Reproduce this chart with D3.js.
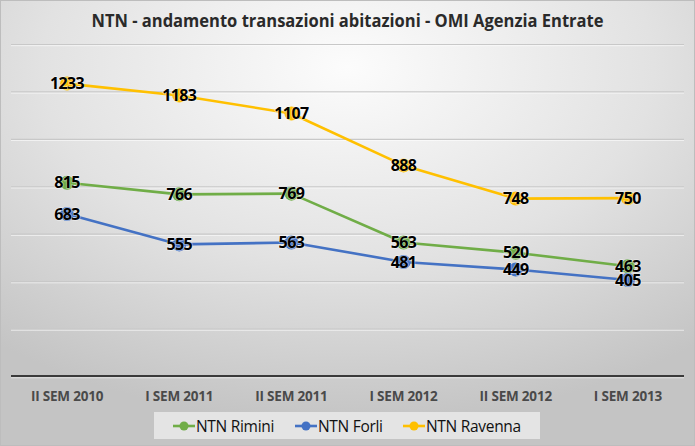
<!DOCTYPE html>
<html>
<head>
<meta charset="utf-8">
<script src="https://cdn.jsdelivr.net/npm/d3@7"></script>
<style>
  html, body { margin: 0; padding: 0; background: #d0d0d0; }
  svg { display: block; }
</style>
</head>
<body>
<svg id="chart" width="695" height="446"></svg>
<script>
const categories = ["II SEM 2010", "I SEM 2011", "II SEM 2011", "I SEM 2012", "II SEM 2012", "I SEM 2013"];
const seriesNames = ["NTN Rimini", "NTN Forli", "NTN Ravenna"];
const rimini = [815, 766, 769, 563, 520, 463];
const forli = [683, 555, 563, 481, 449, 405];
const ravenna = [1233, 1183, 1107, 888, 748, 750];
const yTicks = [0, 200, 400, 600, 800, 1000, 1200, 1400];
const colors = ["#70AD47", "#4472C4", "#FFC000"];
const title = "NTN - andamento transazioni abitazioni - OMI Agenzia Entrate";

(function () {
const series = [rimini, forli, ravenna].map((vals, i) => ({ name: seriesNames[i], values: vals, color: colors[i] }));

const W = 695, H = 446;
const svg = d3.select("#chart");
const defs = svg.append("defs");

const bg = defs.append("radialGradient").attr("id", "bg")
  .attr("cx", "50%").attr("cy", "15%").attr("r", "80%");
bg.append("stop").attr("offset", "0%").attr("stop-color", "#fcfcfc");
bg.append("stop").attr("offset", "55%").attr("stop-color", "#e2e2e2");
bg.append("stop").attr("offset", "100%").attr("stop-color", "#c4c4c4");

svg.append("rect").attr("width", W).attr("height", H).attr("fill", "url(#bg)");
svg.append("rect").attr("x", 0.5).attr("y", 0.5).attr("width", W - 1).attr("height", H - 1)
  .attr("fill", "none").attr("stroke", "#bdbdbd").attr("stroke-width", 1);

const pLeft = 11, pRight = 684, pTop = 44, pBottom = 376;
const x = d3.scaleBand().domain(categories).range([pLeft, pRight]);
const y = d3.scaleLinear().domain([0, 1400]).range([pBottom, pTop]);

// gridlines (embossed)
const grid = svg.append("g");
yTicks.filter(t => t > 0).forEach(t => {
  grid.append("line").attr("x1", pLeft).attr("x2", pRight)
    .attr("y1", y(t) + 0.5).attr("y2", y(t) + 0.5)
    .attr("stroke", "#c8c8c8").attr("stroke-width", 1.2);
  grid.append("line").attr("x1", pLeft).attr("x2", pRight)
    .attr("y1", y(t) + 1.7).attr("y2", y(t) + 1.7)
    .attr("stroke", "#ffffff").attr("stroke-opacity", 0.6).attr("stroke-width", 1);
});

// x axis
const xAxis = svg.append("g").attr("transform", `translate(0,${pBottom})`)
  .call(d3.axisBottom(x).tickSize(0).tickPadding(15));
xAxis.select(".domain").attr("stroke", "#3a3a3a").attr("stroke-width", 2)
  .attr("d", `M${pLeft},0H${pRight}`);
xAxis.selectAll("text")
  .attr("font-family", "'Open Sans', 'Noto Sans', sans-serif")
  .attr("font-weight", "700").attr("font-size", "13.5px").attr("fill", "#4a4a4a")
  .attr("letter-spacing", "-0.2px");
svg.append("line").attr("x1", pLeft).attr("x2", pRight).attr("y1", pBottom + 1.8).attr("y2", pBottom + 1.8)
  .attr("stroke", "#ffffff").attr("stroke-opacity", 0.5);

// title
svg.append("text").attr("x", 347.5).attr("y", 27).attr("text-anchor", "middle")
  .attr("font-family", "'Open Sans', 'Noto Sans', sans-serif").attr("font-weight", "700")
  .attr("font-size", "17.5px").attr("fill", "#2a2a2a")
  .attr("textLength", 512).attr("lengthAdjust", "spacingAndGlyphs")
  .text(title);

const cx = d => x(d) + x.bandwidth() / 2;
const line = d3.line().x((v, i) => cx(categories[i])).y(v => y(v));

const marks = svg.append("g");
series.forEach(s => {
  marks.append("path").datum(s.values).attr("d", line)
    .attr("fill", "none").attr("stroke", s.color).attr("stroke-width", 2.6)
    .attr("stroke-linejoin", "round");
});
series.forEach(s => {
  marks.selectAll(null).data(s.values).enter().append("circle")
    .attr("cx", (v, i) => cx(categories[i])).attr("cy", v => y(v)).attr("r", 7)
    .attr("fill", s.color);
});
series.forEach(s => {
  marks.selectAll(null).data(s.values).enter().append("text")
    .attr("x", (v, i) => cx(categories[i])).attr("y", v => y(v)).attr("dy", "0.36em")
    .attr("text-anchor", "middle")
    .attr("font-family", "'Open Sans', 'Noto Sans', sans-serif").attr("font-weight", "700")
    .attr("font-size", "16px").attr("fill", "#000")
    .attr("stroke", "#ffffff").attr("stroke-opacity", 0.45).attr("stroke-width", 1.5)
    .attr("paint-order", "stroke").attr("letter-spacing", "-0.6px")
    .text(v => v);
});

// legend
const lg = svg.append("g");
lg.append("rect").attr("x", 154).attr("y", 412).attr("width", 386).attr("height", 27)
  .attr("fill", "#e4e4e4");
const legendX = [173, 295, 403];
series.forEach((s, i) => {
  const g = lg.append("g").attr("transform", `translate(${legendX[i]},426)`);
  g.append("line").attr("x1", 0).attr("x2", 22).attr("y1", 0).attr("y2", 0)
    .attr("stroke", s.color).attr("stroke-width", 2.6);
  g.append("circle").attr("cx", 11).attr("cy", 0).attr("r", 4.5).attr("fill", s.color);
  g.append("text").attr("x", 23).attr("y", 0).attr("dy", "0.36em")
    .attr("font-family", "'Open Sans', 'Noto Sans', sans-serif").attr("font-size", "15.5px")
    .attr("fill", "#111").attr("letter-spacing", "-0.3px").text(s.name);
});
})();
</script>
</body>
</html>
